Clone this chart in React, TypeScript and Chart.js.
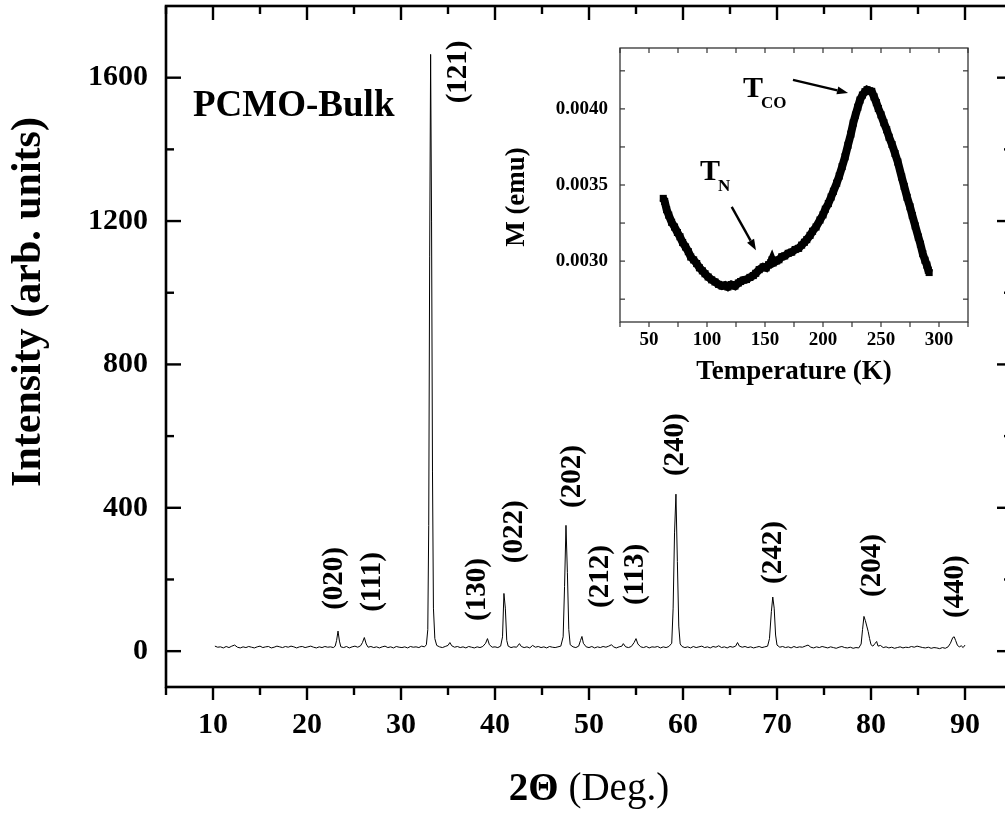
import React, { useEffect, useRef } from "react";
import { Chart, registerables } from "chart.js";

Chart.register(...registerables);

const FONT = '"Liberation Serif", "Times New Roman", serif';

// ---- Main XRD pattern: [2Theta (deg), intensity (arb. units)] ----
const xrdPoints: [number, number][] = [
  [10.2, 14], [10.5, 11], [10.8, 12], [11.1, 9], [11.4, 13], [11.7, 10], [12.0, 14], [12.3, 17], [12.6, 11], [12.9, 9],
  [13.2, 12], [13.5, 10], [13.8, 13], [14.1, 11], [14.4, 9], [14.7, 12], [15.0, 14], [15.3, 10], [15.6, 12], [15.9, 13],
  [16.2, 9], [16.5, 11], [16.8, 14], [17.1, 12], [17.4, 10], [17.7, 13], [18.0, 11], [18.3, 14], [18.6, 12], [18.9, 9],
  [19.2, 12], [19.5, 13], [19.8, 10], [20.1, 12], [20.4, 14], [20.7, 11], [21.0, 9], [21.3, 12], [21.6, 10], [21.9, 13],
  [22.2, 11], [22.5, 12], [22.8, 10], [23.0, 14], [23.15, 30], [23.3, 56], [23.45, 28], [23.6, 12], [23.9, 10], [24.2, 13],
  [24.5, 9], [24.8, 12], [25.1, 14], [25.4, 11], [25.7, 15], [25.9, 24], [26.1, 38], [26.3, 20], [26.5, 11], [26.8, 13],
  [27.1, 10], [27.4, 12], [27.7, 9], [28.0, 12], [28.3, 14], [28.6, 10], [28.9, 12], [29.2, 9], [29.5, 13], [29.8, 11],
  [30.1, 10], [30.4, 12], [30.7, 9], [31.0, 13], [31.3, 11], [31.6, 12], [31.9, 10], [32.2, 14], [32.5, 12], [32.7, 18],
  [32.85, 60], [32.95, 350], [33.05, 1100], [33.15, 1665], [33.25, 1200], [33.35, 500], [33.45, 120], [33.6, 35], [33.8, 16], [34.1, 12],
  [34.4, 10], [34.7, 13], [35.0, 16], [35.2, 24], [35.4, 15], [35.7, 11], [36.0, 13], [36.3, 10], [36.6, 12], [36.9, 9],
  [37.2, 13], [37.5, 11], [37.8, 9], [38.1, 12], [38.4, 10], [38.7, 13], [39.0, 22], [39.2, 35], [39.4, 18], [39.7, 11],
  [40.0, 12], [40.3, 10], [40.6, 14], [40.8, 40], [40.95, 161], [41.1, 120], [41.25, 30], [41.4, 14], [41.7, 10], [42.0, 12],
  [42.3, 11], [42.6, 21], [42.8, 13], [43.1, 10], [43.4, 12], [43.7, 9], [44.0, 16], [44.3, 11], [44.6, 13], [44.9, 10],
  [45.2, 12], [45.5, 9], [45.8, 13], [46.1, 11], [46.4, 10], [46.7, 12], [47.0, 14], [47.25, 40], [47.4, 180], [47.55, 351],
  [47.7, 220], [47.85, 60], [48.0, 18], [48.3, 12], [48.6, 10], [48.9, 14], [49.1, 30], [49.25, 41], [49.4, 22], [49.7, 12],
  [50.0, 10], [50.3, 13], [50.6, 9], [50.9, 12], [51.2, 10], [51.5, 13], [51.8, 11], [52.1, 14], [52.4, 18], [52.6, 12],
  [52.9, 9], [53.2, 12], [53.5, 14], [53.65, 21], [53.9, 12], [54.2, 10], [54.5, 13], [54.8, 24], [55.0, 35], [55.2, 20],
  [55.5, 12], [55.8, 10], [56.1, 13], [56.4, 9], [56.7, 12], [57.0, 11], [57.3, 13], [57.6, 9], [57.9, 12], [58.2, 10],
  [58.5, 13], [58.8, 22], [58.95, 120], [59.1, 330], [59.25, 438], [59.4, 250], [59.55, 70], [59.7, 20], [59.9, 13], [60.2, 10],
  [60.5, 12], [60.8, 9], [61.1, 13], [61.4, 10], [61.7, 12], [62.0, 14], [62.3, 10], [62.6, 12], [62.9, 9], [63.2, 13],
  [63.5, 11], [63.8, 15], [64.1, 10], [64.4, 12], [64.7, 9], [65.0, 13], [65.3, 11], [65.6, 14], [65.8, 24], [66.0, 14],
  [66.3, 11], [66.6, 13], [66.9, 10], [67.2, 12], [67.5, 9], [67.8, 11], [68.1, 13], [68.4, 10], [68.7, 12], [69.0, 14],
  [69.2, 35], [69.4, 110], [69.55, 151], [69.7, 120], [69.85, 45], [70.0, 17], [70.3, 11], [70.6, 13], [70.9, 10], [71.2, 12],
  [71.5, 9], [71.8, 13], [72.1, 10], [72.4, 12], [72.7, 11], [73.0, 14], [73.3, 17], [73.6, 11], [73.9, 9], [74.2, 12],
  [74.5, 10], [74.8, 13], [75.1, 11], [75.4, 9], [75.7, 12], [76.0, 10], [76.3, 8], [76.6, 11], [76.9, 13], [77.2, 10],
  [77.5, 9], [77.8, 11], [78.1, 8], [78.4, 10], [78.7, 9], [78.95, 20], [79.1, 60], [79.25, 97], [79.4, 85], [79.55, 70],
  [79.7, 55], [79.85, 35], [80.0, 18], [80.2, 14], [80.45, 22], [80.6, 27], [80.75, 14], [81.0, 16], [81.3, 10], [81.6, 12],
  [81.9, 9], [82.2, 11], [82.5, 8], [82.8, 10], [83.1, 12], [83.4, 9], [83.7, 11], [84.0, 10], [84.3, 13], [84.6, 11],
  [84.9, 14], [85.2, 12], [85.5, 10], [85.8, 9], [86.1, 11], [86.4, 8], [86.7, 10], [87.0, 9], [87.3, 7], [87.6, 10],
  [87.9, 8], [88.2, 12], [88.45, 22], [88.7, 38], [88.85, 40], [89.0, 30], [89.2, 16], [89.4, 12], [89.6, 15], [89.8, 10],
  [90.0, 17],
];

const xTickValues = [10, 20, 30, 40, 50, 60, 70, 80, 90];
const xMinorTickValues = [5, 15, 25, 35, 45, 55, 65, 75, 85, 95];
const yTickValues = [0, 400, 800, 1200, 1600];
const yMinorTickValues = [200, 600, 1000, 1400];

const peakNames = ["(020)", "(111)", "(121)", "(130)", "(022)", "(202)", "(212)", "(113)", "(240)", "(242)", "(204)", "(440)"];
const peakLabelAngles = [22.96, 27.0, 36.1, 38.16, 42.09, 48.25, 51.23, 54.95, 59.2, 69.6, 80.13, 88.95];
const peakLabelHeights = [203, 193, 1616, 172, 333, 487, 208, 214, 576, 275, 239, 180];

// ---- Inset: magnetization vs temperature: [T (K), M (emu)] ----
const insetPoints: [number, number][] = [
  [62.3, 0.003412], [63.5, 0.003392], [65.2, 0.003338], [67.0, 0.003302], [69.5, 0.003255], [72.0, 0.003224],
  [74.5, 0.003188], [76.7, 0.003160], [79.0, 0.003122], [81.5, 0.003093], [83.9, 0.003062], [86.0, 0.003027],
  [88.5, 0.003008], [91.1, 0.002984], [93.5, 0.002956], [96.0, 0.002936], [98.3, 0.002917], [101.0, 0.002896],
  [104.0, 0.002877], [106.9, 0.002863], [110.0, 0.002847], [113.0, 0.002836], [115.5, 0.002842], [118.0, 0.002830],
  [121.0, 0.002846], [124.1, 0.002836], [127.0, 0.002856], [129.0, 0.002866], [131.3, 0.002875], [134.0, 0.002879],
  [137.0, 0.002893], [139.9, 0.002905], [142.0, 0.002920], [145.0, 0.002944], [148.5, 0.002962], [151.0, 0.002956],
  [153.0, 0.002976], [155.0, 0.002990], [156.0, 0.003008], [157.0, 0.002988], [160.0, 0.003001], [162.0, 0.003009],
  [164.4, 0.003028], [167.0, 0.003034], [170.0, 0.003051], [173.0, 0.003059], [176.0, 0.003076], [179.0, 0.003084],
  [181.6, 0.003105], [184.0, 0.003124], [186.0, 0.003141], [188.8, 0.003169], [191.0, 0.003196], [194.0, 0.003224],
  [197.4, 0.003270], [200.0, 0.003304], [202.0, 0.003341], [204.6, 0.003378], [207.0, 0.003421], [209.0, 0.003459],
  [211.8, 0.003512], [214.0, 0.003559], [216.5, 0.003621], [219.0, 0.003685], [221.5, 0.003761], [224.0, 0.003834],
  [226.1, 0.003907], [228.0, 0.003959], [230.0, 0.004011], [231.9, 0.004058], [234.0, 0.004091], [236.2, 0.004113],
  [238.0, 0.004126], [240.0, 0.004119], [242.0, 0.004115], [244.0, 0.004079], [246.0, 0.004041], [247.7, 0.004003],
  [250.0, 0.003961], [252.5, 0.003909], [254.9, 0.003863], [257.0, 0.003814], [259.5, 0.003766], [262.1, 0.003707],
  [264.5, 0.003651], [267.8, 0.003553], [270.0, 0.003491], [272.5, 0.003419], [275.0, 0.003357], [277.0, 0.003299],
  [279.5, 0.003231], [282.2, 0.003158], [284.0, 0.003111], [286.0, 0.003049], [287.9, 0.003006], [289.5, 0.002974],
  [290.8, 0.002940], [291.5, 0.002925],
];

const insetXTicks = [50, 100, 150, 200, 250, 300];
const insetXMinorTicks = [25, 75, 125, 175, 225, 275, 325];
const insetYTicks = [0.003, 0.0035, 0.004];
const insetYMinorTicks = [0.00275, 0.00325, 0.00375, 0.00425];

const annotationMain = ["T", "T"];
const annotationSub = ["CO", "N"];
const annotationTemps = [131, 94];
const annotationMoments = [0.004079, 0.003532];
const arrowStartTemps = [174.1, 121.3];
const arrowStartMoments = [0.004191, 0.003356];
const arrowEndTemps = [221.6, 142.2];
const arrowEndMoments = [0.004105, 0.003071];

const zeroPadding = (s: any) => {
  s.paddingTop = 0;
  s.paddingBottom = 0;
  s.paddingLeft = 0;
  s.paddingRight = 0;
};

const mainFramePlugin = {
  id: "mainFrame",
  afterDraw(chart: any) {
    const ctx = chart.ctx;
    const { left, right, top, bottom } = chart.chartArea;
    const xs = chart.scales.x;
    const ys = chart.scales.y;
    ctx.save();
    ctx.strokeStyle = "#000";
    ctx.lineWidth = 2.6;
    ctx.strokeRect(left, top, right - left, bottom - top);
    const line = (x1: number, y1: number, x2: number, y2: number) => {
      ctx.beginPath();
      ctx.moveTo(x1, y1);
      ctx.lineTo(x2, y2);
      ctx.stroke();
    };
    ctx.lineWidth = 2.4;
    yTickValues.forEach((v) => {
      const y = ys.getPixelForValue(v);
      line(left, y, left + 15, y);
      line(right, y, right - 15, y);
    });
    yMinorTickValues.forEach((v) => {
      const y = ys.getPixelForValue(v);
      line(left, y, left + 8, y);
      line(right, y, right - 8, y);
    });
    xTickValues.forEach((v) => {
      const x = xs.getPixelForValue(v);
      line(x, bottom, x, bottom + 13);
      line(x, top, x, top + 14);
    });
    xMinorTickValues.forEach((v) => {
      const x = xs.getPixelForValue(v);
      line(x, bottom, x, bottom + 8);
      line(x, top, x, top + 8);
    });

    // axis titles
    ctx.fillStyle = "#000";
    ctx.textBaseline = "alphabetic";
    const boldPart = "2\u0398";
    const regPart = " (Deg.)";
    ctx.font = `bold 39px ${FONT}`;
    const w1 = ctx.measureText(boldPart).width;
    ctx.font = `39px ${FONT}`;
    const w2 = ctx.measureText(regPart).width;
    const cx = (left + right) / 2;
    const startX = cx - (w1 + w2) / 2;
    ctx.font = `bold 39px ${FONT}`;
    ctx.textAlign = "left";
    ctx.fillText(boldPart, startX, 800);
    ctx.font = `39px ${FONT}`;
    ctx.fillText(regPart, startX + w1, 800);

    ctx.save();
    ctx.translate(29, 302);
    ctx.rotate(-Math.PI / 2);
    ctx.font = `bold 42px ${FONT}`;
    ctx.textAlign = "center";
    ctx.textBaseline = "middle";
    ctx.fillText("Intensity (arb. units)", 0, 0);
    ctx.restore();

    ctx.font = `bold 37px ${FONT}`;
    ctx.textAlign = "left";
    ctx.textBaseline = "alphabetic";
    ctx.fillText("PCMO-Bulk", 193, 116);
    ctx.restore();
  },
  afterDatasetsDraw(chart: any) {
    const ctx = chart.ctx;
    const xs = chart.scales.x;
    const ys = chart.scales.y;
    ctx.save();
    ctx.fillStyle = "#000";
    ctx.font = `bold 29px ${FONT}`;
    ctx.textAlign = "center";
    ctx.textBaseline = "middle";
    peakNames.forEach((name, i) => {
      const x = xs.getPixelForValue(peakLabelAngles[i]);
      const y = ys.getPixelForValue(peakLabelHeights[i]);
      ctx.save();
      ctx.translate(x, y);
      ctx.rotate(-Math.PI / 2);
      ctx.fillText(name, 0, 0);
      ctx.restore();
    });
    ctx.restore();
  },
};

const insetPlugin = {
  id: "insetFrame",
  afterDraw(chart: any) {
    const ctx = chart.ctx;
    const { left, right, top, bottom } = chart.chartArea;
    const xs = chart.scales.x;
    const ys = chart.scales.y;
    ctx.save();
    ctx.strokeStyle = "#333";
    ctx.lineWidth = 1.3;
    ctx.strokeRect(left, top, right - left, bottom - top);
    const line = (x1: number, y1: number, x2: number, y2: number) => {
      ctx.beginPath();
      ctx.moveTo(x1, y1);
      ctx.lineTo(x2, y2);
      ctx.stroke();
    };
    ctx.lineWidth = 1.2;
    [...insetYTicks, ...insetYMinorTicks].forEach((v) => {
      const y = ys.getPixelForValue(v);
      line(left, y, left + 5, y);
      line(right, y, right - 5, y);
    });
    [...insetXTicks, ...insetXMinorTicks].forEach((v) => {
      const x = xs.getPixelForValue(v);
      line(x, bottom, x, bottom + 5);
      line(x, top, x, top + 5);
    });

    ctx.fillStyle = "#000";
    ctx.font = `bold 27px ${FONT}`;
    ctx.textAlign = "center";
    ctx.textBaseline = "middle";
    ctx.fillText("Temperature (K)", (left + right) / 2, bottom + 50);
    ctx.save();
    ctx.translate(27, 162);
    ctx.rotate(-Math.PI / 2);
    ctx.fillText("M (emu)", 0, 0);
    ctx.restore();

    // annotations
    ctx.textAlign = "left";
    ctx.textBaseline = "alphabetic";
    annotationMain.forEach((t, i) => {
      const x = xs.getPixelForValue(annotationTemps[i]);
      const y = ys.getPixelForValue(annotationMoments[i]);
      ctx.font = `bold 30px ${FONT}`;
      const w = ctx.measureText(t).width;
      ctx.fillText(t, x, y);
      ctx.font = `bold 17px ${FONT}`;
      ctx.fillText(annotationSub[i], x + w - 2, y + 11);
    });

    ctx.strokeStyle = "#000";
    ctx.lineWidth = 2.4;
    arrowStartTemps.forEach((_, i) => {
      const x1 = xs.getPixelForValue(arrowStartTemps[i]);
      const y1 = ys.getPixelForValue(arrowStartMoments[i]);
      const x2 = xs.getPixelForValue(arrowEndTemps[i]);
      const y2 = ys.getPixelForValue(arrowEndMoments[i]);
      const a = Math.atan2(y2 - y1, x2 - x1);
      const hl = 11;
      const hw = 4;
      const bx = x2 - hl * Math.cos(a);
      const by = y2 - hl * Math.sin(a);
      line(x1, y1, bx, by);
      ctx.beginPath();
      ctx.moveTo(x2, y2);
      ctx.lineTo(bx + hw * Math.sin(a), by - hw * Math.cos(a));
      ctx.lineTo(bx - hw * Math.sin(a), by + hw * Math.cos(a));
      ctx.closePath();
      ctx.fill();
    });
    ctx.restore();
  },
};

export default function App() {
  const mainRef = useRef<HTMLCanvasElement>(null);
  const insetRef = useRef<HTMLCanvasElement>(null);

  useEffect(() => {
    if (!mainRef.current || !insetRef.current) return;
    const tickFont = { family: FONT, size: 30, weight: "bold" as const };
    const main = new Chart(mainRef.current, {
      type: "line",
      data: {
        datasets: [
          {
            data: xrdPoints.map(([x, y]) => ({ x, y })),
            borderColor: "#000",
            borderWidth: 1,
            pointRadius: 0,
            tension: 0,
            fill: false,
          },
        ],
      },
      options: {
        animation: false,
        responsive: false,
        devicePixelRatio: 1,
        layout: { padding: { left: 0, right: 18, top: 6, bottom: 0 } },
        plugins: { legend: { display: false }, tooltip: { enabled: false }, title: { display: false } },
        scales: {
          x: {
            type: "linear",
            min: 5,
            max: 95,
            afterBuildTicks: (s: any) => {
              s.ticks = xTickValues.map((v) => ({ value: v }));
            },
            afterFit: (s: any) => {
              s.height = 130;
              zeroPadding(s);
            },
            grid: { display: false, drawTicks: false },
            border: { display: false },
            ticks: { color: "#000", font: tickFont, padding: 20, maxRotation: 0, autoSkip: false, callback: (v: any) => String(v) },
          },
          y: {
            type: "linear",
            min: -100,
            max: 1800,
            afterBuildTicks: (s: any) => {
              s.ticks = yTickValues.map((v) => ({ value: v }));
            },
            afterFit: (s: any) => {
              s.width = 166;
              zeroPadding(s);
            },
            grid: { display: false, drawTicks: false },
            border: { display: false },
            ticks: { color: "#000", font: tickFont, padding: 18, autoSkip: false, callback: (v: any) => String(v) },
          },
        },
      },
      plugins: [mainFramePlugin],
    });

    const insetTickFont = { family: FONT, size: 19, weight: "bold" as const };
    const inset = new Chart(insetRef.current, {
      type: "line",
      data: {
        datasets: [
          {
            data: insetPoints.map(([x, y]) => ({ x, y })),
            borderColor: "#000",
            backgroundColor: "#000",
            borderWidth: 8,
            pointRadius: 5,
            pointStyle: "rect",
            pointBorderWidth: 0,
            tension: 0,
            fill: false,
          },
        ],
      },
      options: {
        animation: false,
        responsive: false,
        devicePixelRatio: 1,
        layout: { padding: { left: 0, right: 22, top: 13, bottom: 0 } },
        plugins: { legend: { display: false }, tooltip: { enabled: false }, title: { display: false } },
        scales: {
          x: {
            type: "linear",
            min: 25,
            max: 325,
            afterBuildTicks: (s: any) => {
              s.ticks = insetXTicks.map((v) => ({ value: v }));
            },
            afterFit: (s: any) => {
              s.height = 78;
              zeroPadding(s);
            },
            grid: { display: false, drawTicks: false },
            border: { display: false },
            ticks: { color: "#000", font: insetTickFont, padding: 7, maxRotation: 0, autoSkip: false, callback: (v: any) => String(v) },
          },
          y: {
            type: "linear",
            min: 0.0026,
            max: 0.0044,
            afterBuildTicks: (s: any) => {
              s.ticks = insetYTicks.map((v) => ({ value: v }));
            },
            afterFit: (s: any) => {
              s.width = 130;
              zeroPadding(s);
            },
            grid: { display: false, drawTicks: false },
            border: { display: false },
            ticks: { color: "#000", font: insetTickFont, padding: 12, autoSkip: false, callback: (v: any) => Number(v).toFixed(4) },
          },
        },
      },
      plugins: [insetPlugin],
    });

    return () => {
      main.destroy();
      inset.destroy();
    };
  }, []);

  return (
    <div
      style={{
        position: "fixed",
        left: 0,
        top: 0,
        width: 1005,
        height: 817,
        overflow: "hidden",
        background: "#fff",
      }}
    >
      <canvas ref={mainRef} width={1030} height={817} style={{ position: "absolute", left: 0, top: 0, width: 1030, height: 817 }} />
      <canvas ref={insetRef} width={500} height={365} style={{ position: "absolute", left: 490, top: 35, width: 500, height: 365 }} />
    </div>
  );
}
